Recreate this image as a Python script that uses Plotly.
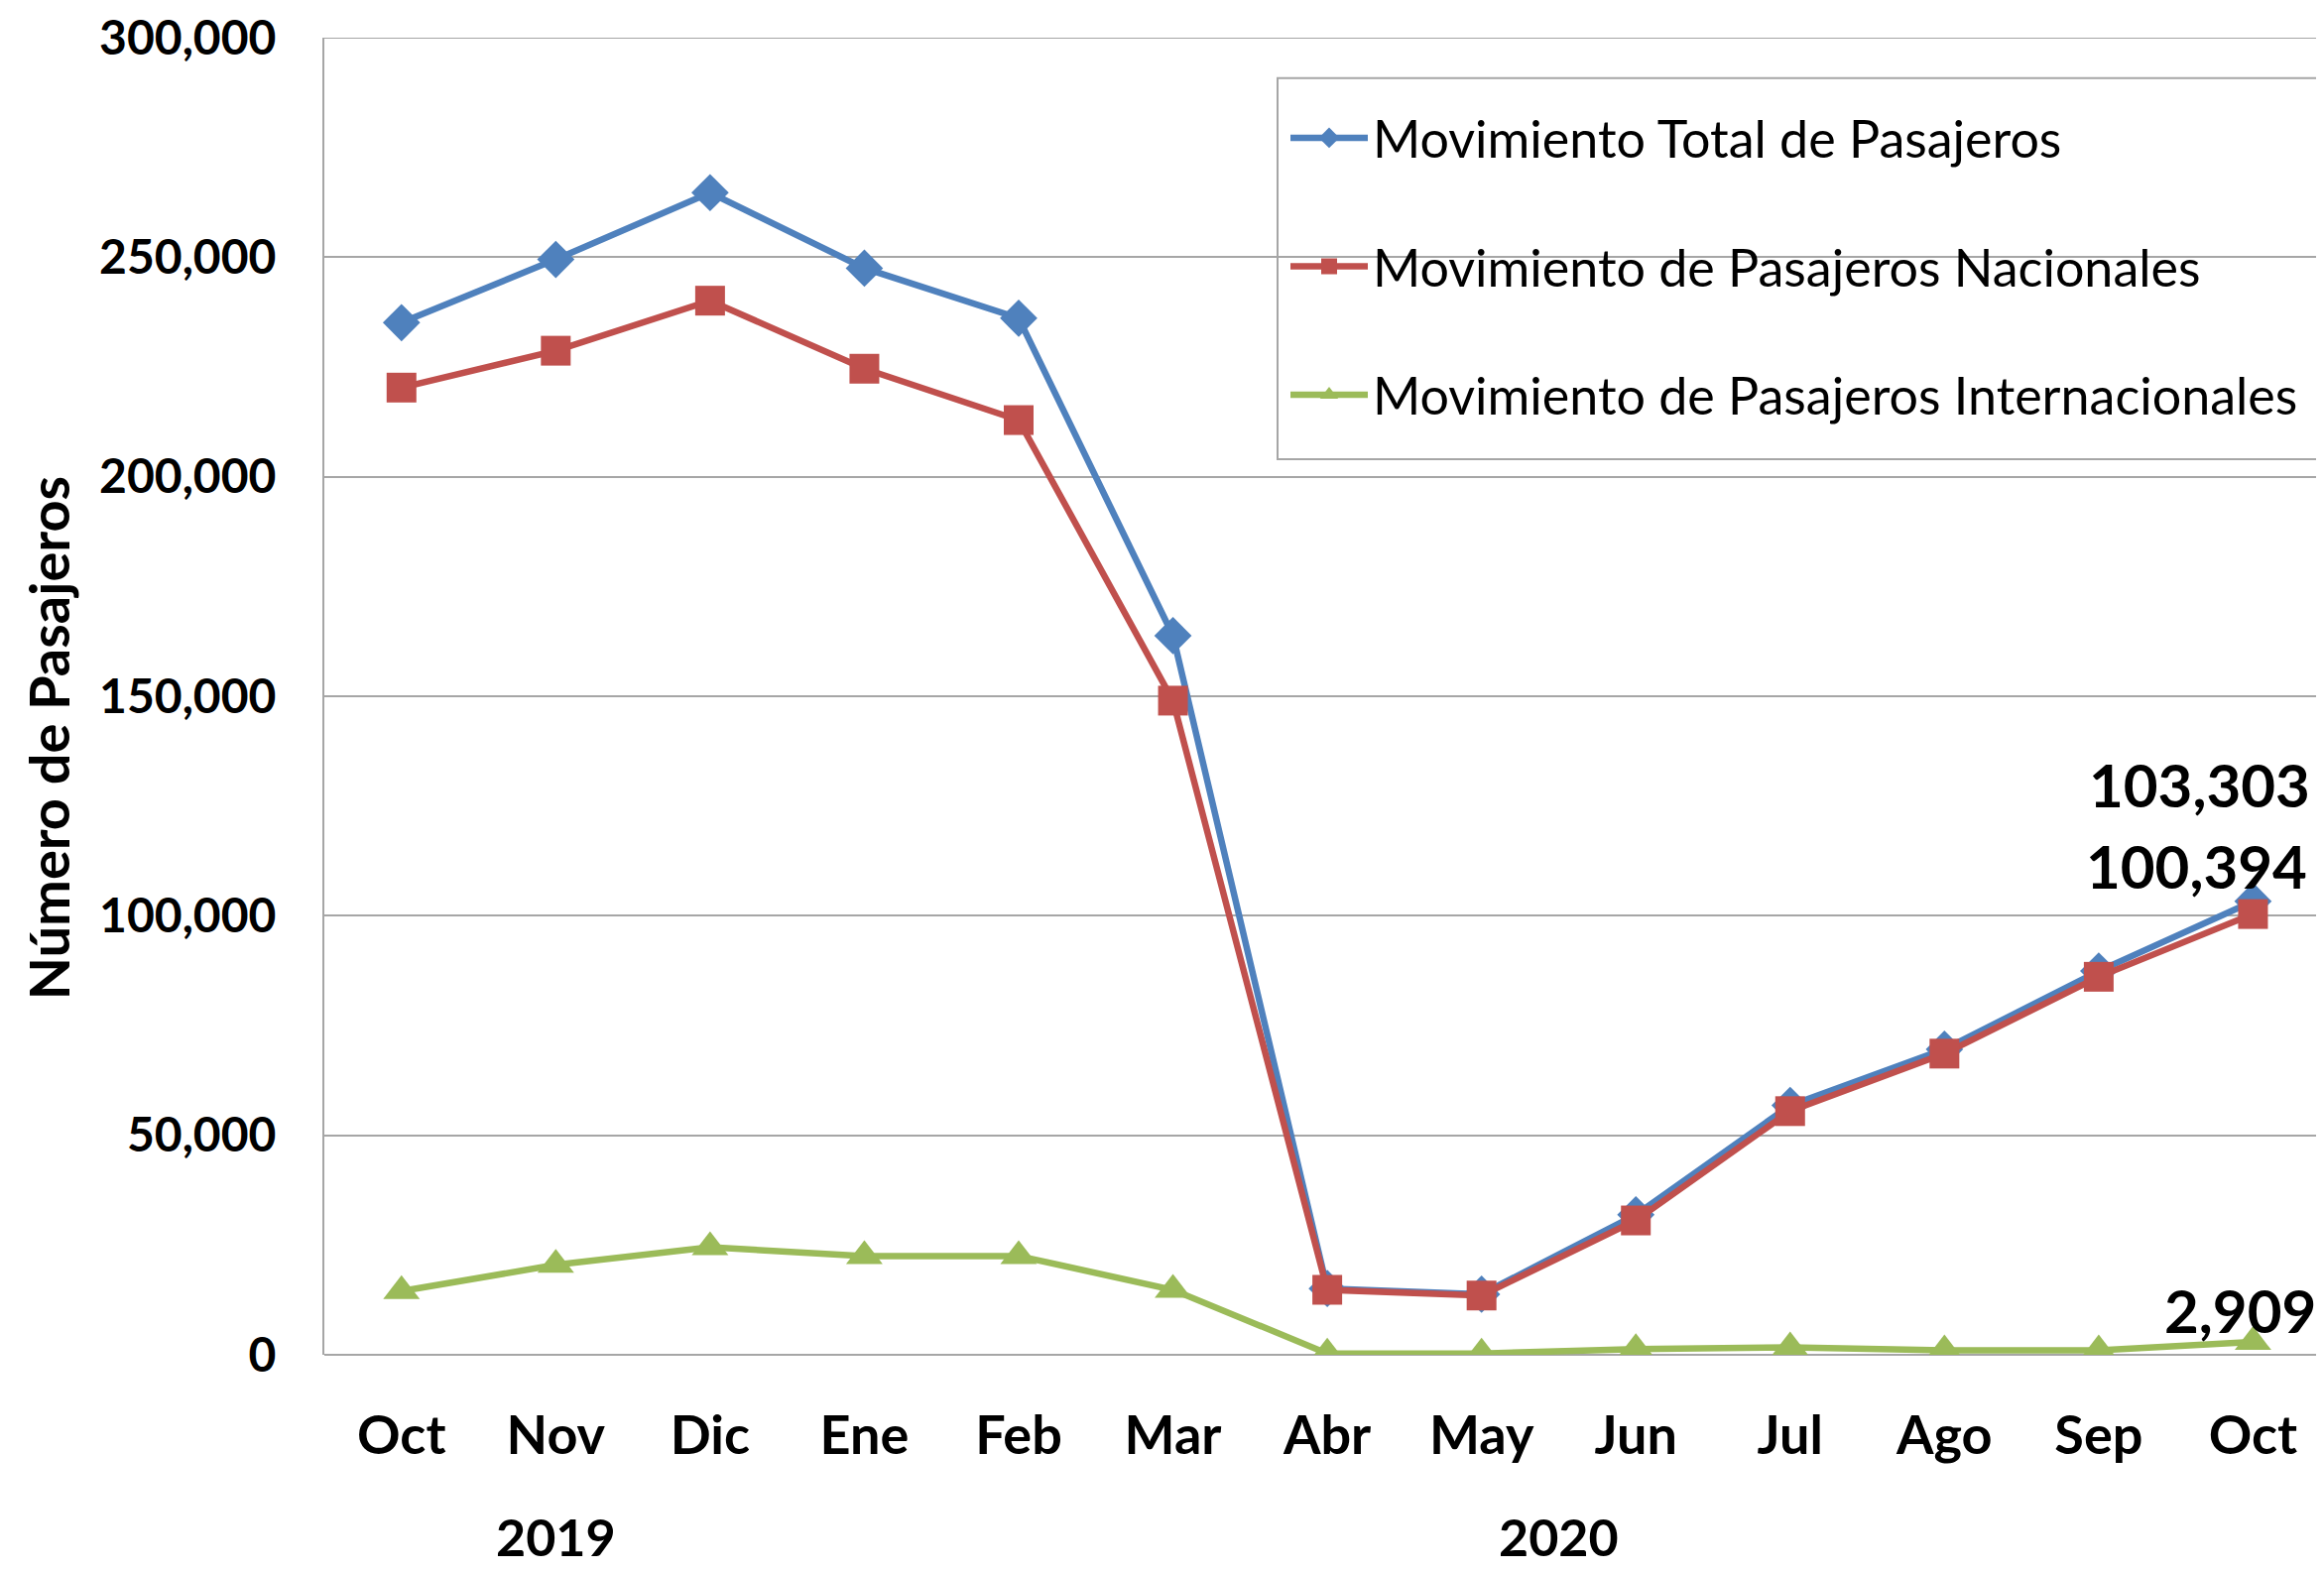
import plotly.graph_objects as go

months = ["Oct", "Nov", "Dic", "Ene", "Feb", "Mar", "Abr", "May", "Jun", "Jul", "Ago", "Sep", "Oct"]
years = ["2019", "2020"]
total = [235100, 249500, 264700, 247500, 236100, 163800, 15100, 13800, 31900, 56800, 69600, 87400, 103303]
nacional = [220300, 228700, 240100, 224600, 212900, 149000, 14800, 13500, 30600, 55500, 68600, 86100, 100394]
internacional = [14500, 20500, 24500, 22500, 22500, 14800, 300, 300, 1300, 1700, 1000, 1000, 2909]
series_names = ["Movimiento Total de Pasajeros", "Movimiento de Pasajeros Nacionales",
                "Movimiento de Pasajeros Internacionales"]
y_ticks = [0, 50000, 100000, 150000, 200000, 250000, 300000]

OFF = 8  # page body margin
W, H = 2343 - OFF, 1585 - OFF
L, R, T = 327 - OFF, 0, 29 - OFF
BOT = 1366 - OFF
B = H - BOT
pw, ph = W - L - R, BOT - T
FONT = "Lato"
GRID = "#A6A6A6"

x = list(range(len(months)))

fig = go.Figure()
specs = [
    (total, "#4F81BD", "diamond", 29),
    (nacional, "#C0504D", "square", 30),
    (internacional, "#9BBB59", "triangle-up", 32),
]
for i, (vals, col, sym, sz) in enumerate(specs):
    fig.add_trace(go.Scatter(
        x=x, y=vals, name=series_names[i], mode="lines+markers",
        line=dict(color=col, width=6.5),
        marker=dict(color=col, symbol=sym, size=sz),
        legendgroup=f"g{i}",
    ))

def px_x(p):
    return (p - OFF - L) / pw

def px_y(p):
    return (BOT - (p - OFF)) / ph

annotations = []
# data labels on last point
for vals, xs, ys in [(total, 60, 118), (nacional, 57, 49), (internacional, 66, 32)]:
    v = vals[-1]
    annotations.append(dict(x=x[-1], y=v, xref="x", yref="y", text=f"{v:,}", showarrow=False,
                            xanchor="right", yanchor="middle", xshift=xs, yshift=ys,
                            font=dict(family=FONT, size=60, color="black", weight="bold")))
# year labels
for yr, xc in zip(years, [1, 7.5]):
    annotations.append(dict(x=xc, y=px_y(1550), xref="x", yref="paper", text=yr, showarrow=False,
                            xanchor="center", yanchor="middle",
                            font=dict(family=FONT, size=52, color="black", weight="bold")))
# y axis title
annotations.append(dict(x=px_x(48), y=px_y(740), xref="paper", yref="paper", text="Número de Pasajeros",
                        textangle=-90, showarrow=False, xanchor="center", yanchor="middle",
                        font=dict(family=FONT, size=56, color="black", weight="bold")))

shapes = [
    dict(type="line", xref="paper", yref="y", x0=0, x1=1, y0=y_ticks[-1], y1=y_ticks[-1],
         line=dict(color=GRID, width=2), layer="below"),
    dict(type="rect", xref="paper", yref="paper",
         x0=px_x(1288), x1=px_x(2336), y0=px_y(457), y1=px_y(70),
         line=dict(color=GRID, width=2), fillcolor="white", layer="below"),
]

fig.update_layout(
    width=W, height=H,
    margin=dict(l=L, r=R, t=T, b=B, pad=0),
    paper_bgcolor="white", plot_bgcolor="white",
    showlegend=True,
    legend=dict(x=px_x(1296), y=px_y(90), xanchor="left", yanchor="top",
                bgcolor="rgba(0,0,0,0)", borderwidth=0,
                font=dict(family=FONT, size=52, color="black"),
                traceorder="grouped", tracegroupgap=59, itemwidth=78),
    xaxis=dict(range=[-0.5, 12.46], tickmode="array", tickvals=x, ticktext=months,
               showgrid=False, zeroline=False, showline=False, ticks="",
               ticklabelstandoff=45,
               tickfont=dict(family=FONT, size=54, color="black", weight="bold")),
    yaxis=dict(range=[0, 300000], tickmode="array", tickvals=y_ticks,
               tickformat=",d", showgrid=True, gridcolor=GRID, gridwidth=2,
               zeroline=True, zerolinecolor=GRID, zerolinewidth=2,
               showline=True, linecolor=GRID, linewidth=2, ticks="",
               ticklabelstandoff=37, ticklabeloverflow="allow",
               tickfont=dict(family=FONT, size=48, color="black", weight="bold")),
    annotations=annotations,
    shapes=shapes,
)

fig.write_html("out.html")
